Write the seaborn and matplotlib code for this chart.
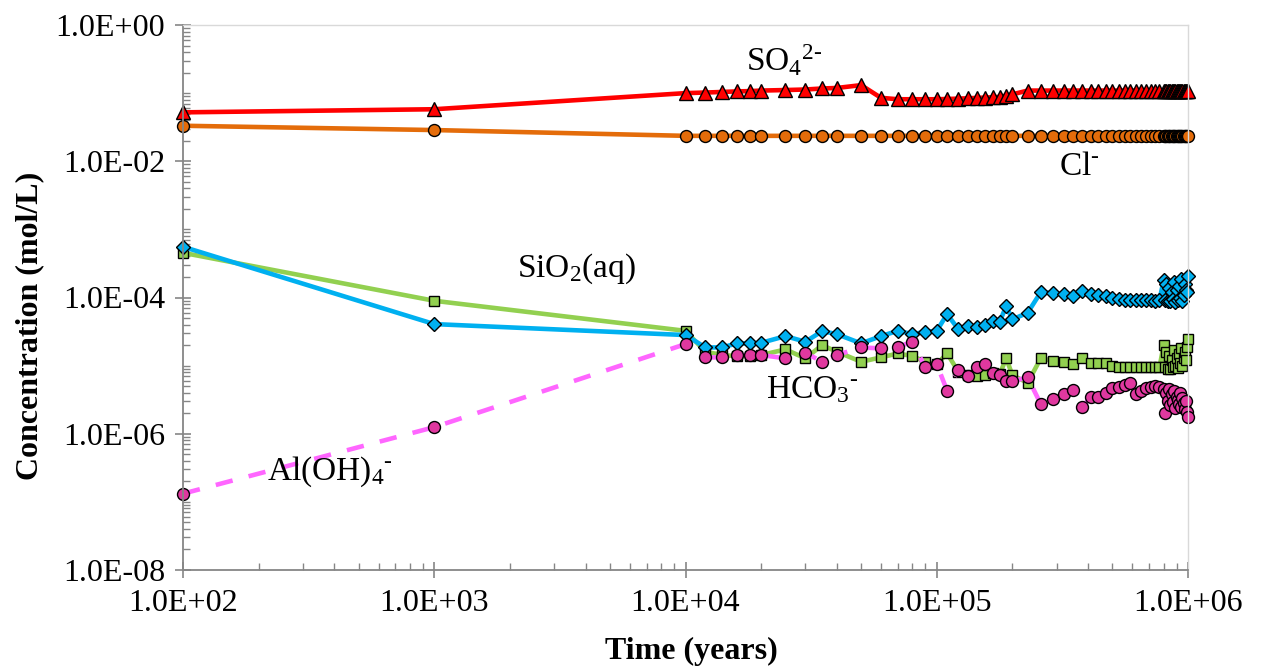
import numpy as np
import pandas as pd
import matplotlib
matplotlib.use("Agg")
import matplotlib.pyplot as plt
import matplotlib.ticker as mticker
import seaborn as sns

# ---------------- data ----------------
times = [1e2, 1e3,
         1.0e4, 1.2e4, 1.4e4, 1.6e4, 1.8e4, 2.0e4, 2.5e4, 3.0e4, 3.5e4, 4.0e4,
         5.0e4, 6.0e4, 7.0e4, 8.0e4, 9.0e4, 1.0e5, 1.1e5, 1.22e5, 1.33e5, 1.44e5,
         1.56e5, 1.67e5, 1.78e5, 1.89e5, 2.0e5,
         2.3e5, 2.6e5, 2.9e5, 3.2e5, 3.5e5, 3.8e5, 4.1e5, 4.4e5, 4.7e5, 5.0e5,
         5.3e5, 5.6e5, 5.9e5, 6.2e5, 6.5e5, 6.8e5, 7.1e5, 7.4e5, 7.7e5]
times_dense = [8.0e5, 8.1e5, 8.2e5, 8.3e5, 8.4e5, 8.5e5, 8.6e5, 8.7e5, 8.8e5, 8.9e5,
               9.0e5, 9.1e5, 9.2e5, 9.3e5, 9.4e5, 9.5e5, 9.6e5, 9.7e5, 9.8e5, 9.9e5, 1.0e6]

so4 = [0.0522, 0.058,
       0.100, 0.102, 0.104, 0.106, 0.107, 0.109, 0.111, 0.113, 0.117, 0.119,
       0.131, 0.0853, 0.0813, 0.0813, 0.0813, 0.0813, 0.082, 0.083, 0.084, 0.085,
       0.086, 0.087, 0.088, 0.092, 0.096,
       0.109, 0.109, 0.109, 0.109, 0.109, 0.109, 0.109, 0.109, 0.109, 0.109,
       0.109, 0.109, 0.109, 0.109, 0.109, 0.109, 0.109, 0.109, 0.109]
so4_dense = [0.109, 0.109, 0.109, 0.109, 0.109, 0.109, 0.109, 0.109, 0.109, 0.109,
             0.109, 0.109, 0.109, 0.109, 0.109, 0.109, 0.109, 0.109, 0.109, 0.109, 0.109]

cl = [0.0332, 0.0287,
      0.0236, 0.0236, 0.0236, 0.0236, 0.0236, 0.0236, 0.0236, 0.0236, 0.0236, 0.0236,
      0.0236, 0.0236, 0.0236, 0.0236, 0.0236, 0.0236, 0.0236, 0.0236, 0.0236, 0.0236,
      0.0236, 0.0236, 0.0236, 0.0236, 0.0236,
      0.0236, 0.0236, 0.0236, 0.0236, 0.0236, 0.0236, 0.0236, 0.0236, 0.0236, 0.0236,
      0.0236, 0.0236, 0.0236, 0.0236, 0.0236, 0.0236, 0.0236, 0.0236, 0.0236]
cl_dense = [0.0236, 0.0236, 0.0236, 0.0236, 0.0236, 0.0236, 0.0236, 0.0236, 0.0236, 0.0236,
            0.0236, 0.0236, 0.0236, 0.0236, 0.0236, 0.0236, 0.0236, 0.0236, 0.0236, 0.0236, 0.0236]

hco3 = [4.53e-4, 8.95e-5,
        3.24e-5, 1.60e-5, 1.43e-5, 1.38e-5, 1.38e-5, 1.43e-5, 1.73e-5, 1.28e-5, 2.0e-5, 1.60e-5,
        1.14e-5, 1.32e-5, 1.51e-5, 1.38e-5, 1.14e-5, 1.05e-5, 1.51e-5, 8.1e-6, 7.25e-6, 7.1e-6,
        7.25e-6, 7.7e-6, 7.5e-6, 1.28e-5, 7.25e-6,
        5.6e-6, 1.30e-5, 1.16e-5, 1.14e-5, 1.05e-5, 1.30e-5, 1.10e-5, 1.10e-5, 1.08e-5, 9.8e-6,
        9.6e-6, 9.6e-6, 9.6e-6, 9.6e-6, 9.4e-6, 9.4e-6, 9.4e-6, 9.4e-6, 9.4e-6]
hco3_dense = [2.0e-5, 9.4e-6, 1.6e-5, 9.0e-6, 1.4e-5, 8.8e-6, 1.2e-5, 9.5e-6, 1.7e-5, 1.0e-5,
              1.3e-5, 9.2e-6, 1.5e-5, 1.1e-5, 1.8e-5, 1.0e-5, 1.3e-5, 1.6e-5, 1.2e-5, 1.9e-5, 2.5e-5]

sio2 = [5.55e-4, 4.07e-5,
        2.81e-5, 1.85e-5, 1.85e-5, 2.12e-5, 2.12e-5, 2.16e-5, 2.71e-5, 2.24e-5, 3.21e-5, 2.90e-5,
        2.12e-5, 2.71e-5, 3.24e-5, 2.90e-5, 3.13e-5, 3.24e-5, 5.70e-5, 3.40e-5, 3.77e-5, 3.71e-5,
        3.94e-5, 4.55e-5, 4.40e-5, 7.48e-5, 4.77e-5,
        5.96e-5, 1.21e-4, 1.15e-4, 1.12e-4, 1.05e-4, 1.24e-4, 1.12e-4, 1.08e-4, 1.05e-4, 9.7e-5,
        9.4e-5, 9.3e-5, 9.2e-5, 9.1e-5, 9.2e-5, 9.1e-5, 9.2e-5, 9.0e-5, 9.1e-5]
sio2_dense = [1.8e-4, 9.3e-5, 1.6e-4, 9.0e-5, 1.4e-4, 8.8e-5, 1.2e-4, 9.5e-5, 1.7e-4, 8.6e-5,
              1.3e-4, 9.2e-5, 1.5e-4, 1.0e-4, 1.9e-4, 9.0e-5, 1.1e-4, 1.6e-4, 1.3e-4, 1.2e-4, 2.1e-4]

aloh4 = [1.32e-7, 1.25e-6,
         2.07e-5, 1.32e-5, 1.32e-5, 1.43e-5, 1.43e-5, 1.43e-5, 1.28e-5, 1.54e-5, 1.14e-5, 1.43e-5,
         1.85e-5, 1.79e-5, 1.89e-5, 2.24e-5, 9.4e-6, 1.05e-5, 4.27e-6, 8.6e-6, 7.0e-6, 9.5e-6,
         1.04e-5, 7.7e-6, 7.25e-6, 6.0e-6, 5.9e-6,
         6.7e-6, 2.69e-6, 3.19e-6, 3.81e-6, 4.37e-6, 2.48e-6, 3.48e-6, 3.41e-6, 3.91e-6, 4.62e-6,
         4.89e-6, 5.18e-6, 5.59e-6, 3.81e-6, 4.27e-6, 4.62e-6, 4.89e-6, 5.0e-6, 4.89e-6]
aloh4_dense = [4.6e-6, 2.0e-6, 4.0e-6, 3.0e-6, 4.5e-6, 2.6e-6, 3.8e-6, 2.9e-6, 4.2e-6, 2.4e-6,
               3.5e-6, 3.1e-6, 2.7e-6, 3.9e-6, 2.5e-6, 3.3e-6, 2.8e-6, 2.3e-6, 3.0e-6, 2.1e-6, 1.75e-6]

x_ticks = [1e2, 1e3, 1e4, 1e5, 1e6]
y_ticks = [1e-8, 1e-6, 1e-4, 1e-2, 1e0]

# ---------------- style ----------------
sns.set_style("white")
plt.rcParams['font.family'] = ['Liberation Serif', 'DejaVu Serif']
plt.rcParams['mathtext.fontset'] = 'custom'
plt.rcParams['mathtext.rm'] = 'Liberation Serif'
plt.rcParams['mathtext.it'] = 'Liberation Serif:italic'
plt.rcParams['mathtext.bf'] = 'Liberation Serif:bold'
plt.rcParams['text.color'] = 'black'
plt.rcParams['axes.labelcolor'] = 'black'
plt.rcParams['xtick.color'] = 'black'
plt.rcParams['ytick.color'] = 'black'

W, H = 1263, 672
fig = plt.figure(figsize=(W / 100, H / 100), dpi=100)
L, R, T, B = 183, 1188, 25, 570
ax = fig.add_axes([L / W, 1 - B / H, (R - L) / W, (B - T) / H])
ax.set_xscale('log')
ax.set_yscale('log')

series = [
    (so4 + so4_dense, "#ff0000", "#ff0000", "^", 10.0),
    (cl + cl_dense, "#e46c0a", "#e46c0a", "o", 8.6),
    (hco3 + hco3_dense, "#92d050", "#92d050", "s", 7.6),
    (sio2 + sio2_dense, "#00b0f0", "#00b0f0", "D", 6.8),
    (aloh4 + aloh4_dense, "#ff66ff", "#e0389f", "o", 8.6),
]
all_t = times + times_dense
for vals, lc, mc, mk, ms in series:
    df = pd.DataFrame({"t": all_t, "c": vals})
    sns.lineplot(data=df, x="t", y="c", ax=ax, color=lc, marker=mk, markersize=ms,
                 markerfacecolor=mc, markeredgecolor="black", markeredgewidth=1.0,
                 linewidth=3.3, estimator=None, sort=False, legend=False, clip_on=False)

ax.lines[-1].set_dashes([3.8, 3.6])

ax.set_xlim(1e2, 1e6)
ax.set_ylim(1e-8, 1e0)

fmt = mticker.FuncFormatter(lambda v, p: f"{v:.1E}")
ax.xaxis.set_major_locator(mticker.FixedLocator(x_ticks))
ax.yaxis.set_major_locator(mticker.FixedLocator(y_ticks))
ax.xaxis.set_major_formatter(fmt)
ax.yaxis.set_major_formatter(fmt)
ax.xaxis.set_minor_locator(mticker.LogLocator(base=10, subs=np.arange(2, 10), numticks=50))
ax.yaxis.set_minor_locator(mticker.LogLocator(base=10, subs=np.arange(1, 10), numticks=50))
ax.xaxis.set_minor_formatter(mticker.NullFormatter())
ax.yaxis.set_minor_formatter(mticker.NullFormatter())

axis_gray = "#868686"
ax.tick_params(which='both', bottom=True, left=True, top=False, right=False)
ax.tick_params(which='major', direction='inout', length=12, width=1.2, color=axis_gray,
               labelsize=23, labelcolor='black')
ax.tick_params(axis='y', which='major', pad=7)
ax.tick_params(axis='x', which='major', pad=8)
ax.tick_params(which='minor', direction='in', length=5, width=1.0, color=axis_gray)

for s in ['left', 'bottom']:
    ax.spines[s].set_color(axis_gray)
    ax.spines[s].set_linewidth(1.3)
for s in ['top', 'right']:
    ax.spines[s].set_color("#d9d9d9")
    ax.spines[s].set_linewidth(1.0)
ax.set_zorder(1)

ax.set_xlabel("Time (years)", fontsize=23, fontweight='bold', color='black')
ax.set_ylabel("Concentration (mol/L)", fontsize=23, fontweight='bold', color='black')
ax.xaxis.set_label_coords((691 - L) / (R - L), (B - 637) / (B - T))
ax.yaxis.set_label_coords((44 - L) / (R - L), (B - 325.5) / (B - T))

hy = "\u2010"
labels = [
    ("SO$_4{}^{2" + hy + "}$", 746, 70.7),
    ("Cl$^{" + hy + "}$", 1059, 175),
    ("SiO$_2$(aq)", 517, 276.7),
    ("HCO$_3{}^{" + hy + "}$", 766, 398),
    ("Al(OH)$_4{}^{" + hy + "}$", 267, 480),
]
for s, x, y in labels:
    fig.text(x / W, 1 - y / H, s, fontsize=24, ha='left', va='baseline', zorder=5,
             color='black')

fig.savefig("out.png", dpi=100)
